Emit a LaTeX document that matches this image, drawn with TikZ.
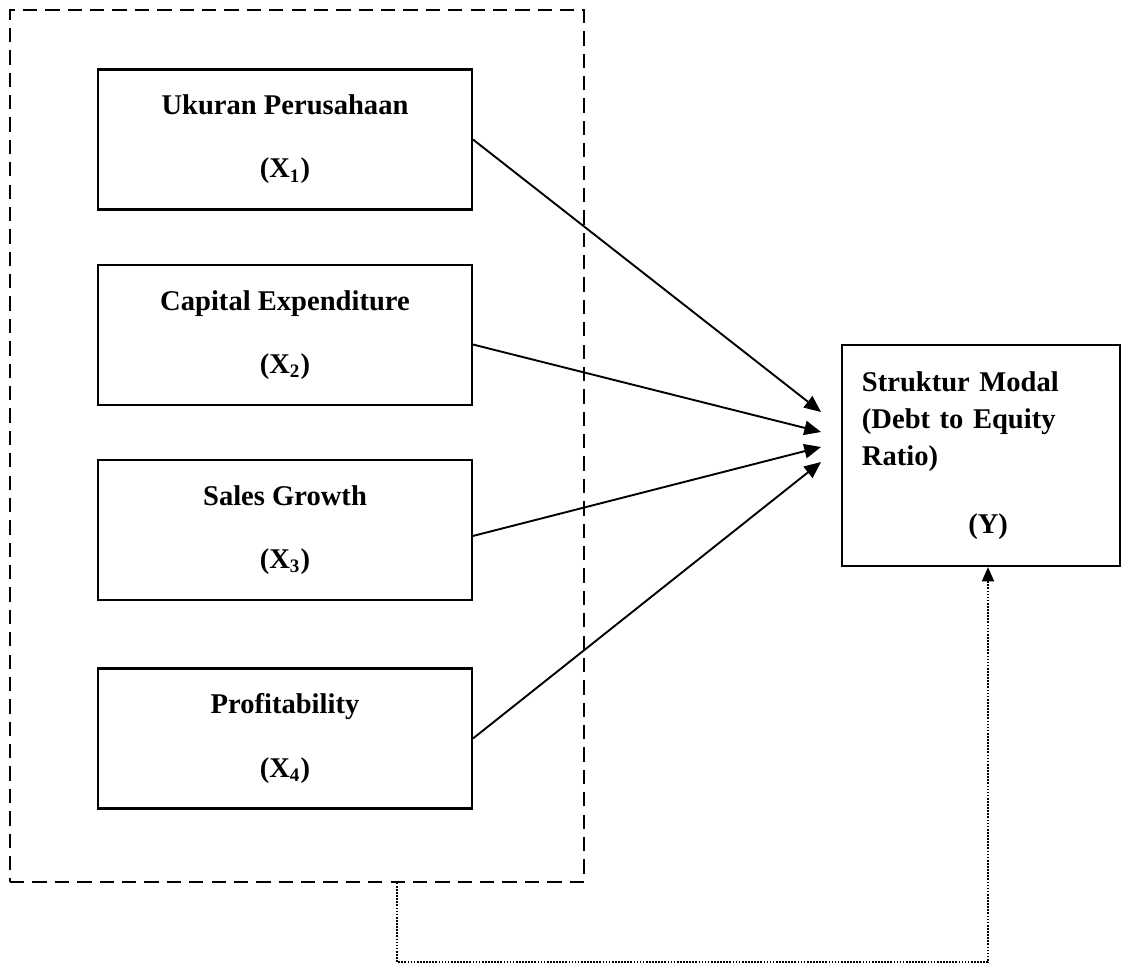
\documentclass[tikz,border=0pt]{standalone}
\usepackage{fontspec}
\setmainfont{Liberation Serif}
\usepackage{tikz}
\usetikzlibrary{arrows.meta,positioning}
\tikzset{
  varbox/.style={draw, line width=0.9pt, minimum width=157pt, minimum height=58.8pt, align=center, font=\fontsize{12}{14.5}\selectfont\bfseries},
  modalbox/.style={varbox, minimum width=116.8pt, minimum height=92.8pt, text width=100pt, align=left},
  groupbox/.style={draw, line width=0.9pt, dash pattern=on 6pt off 3.4pt, minimum width=241pt, minimum height=366pt},
  arc/.style={-{Triangle[length=7pt,width=6pt]}, line width=0.8pt},
  dotarc/.style={-{Triangle[length=6pt,width=5pt]}, line width=0.9pt, dash pattern=on 0.7pt off 0.6pt}
}
\begin{document}
\begin{tikzpicture}[x=0.42pt, y=-0.42pt]
  \useasboundingbox (0,0) rectangle (1121,965);
  \node[groupbox] (group) at (297,446) {};
  \node[varbox] (ukuran) at (285,139.5) {Ukuran Perusahaan\\[12pt](X\textsubscript{1})};
  \node[varbox] (capex) at (285,335) {Capital Expenditure\\[12pt](X\textsubscript{2})};
  \node[varbox] (sales) at (285,530) {Sales Growth\\[12pt](X\textsubscript{3})};
  \node[varbox] (profit) at (285,738.5) {Profitability\\[12pt](X\textsubscript{4})};
  \node[modalbox] (modal) at (981,455.5) {Struktur Modal\\[1pt](Debt to Equity\\[1pt]Ratio)\\[14pt]\makebox[\linewidth]{\hspace{6pt}(Y)}};

  % arrow tips in front of the Y box
  \coordinate (t1) at (821,412);
  \coordinate (t2) at (821,432);
  \coordinate (t3) at (821,447);
  \coordinate (t4) at (821,462);
  \draw[arc] (ukuran.east) -- (t1);
  \draw[arc] ([yshift=-4pt]capex.east) -- (t2);
  \draw[arc] ([yshift=-2.5pt]sales.east) -- (t3);
  \draw[arc] (profit.east) -- (t4);

  % dotted feedback line
  \coordinate (dl) at (397,962);
  \coordinate (dr) at (988,962);
  \draw[dotarc] (group.south -| dl) -- (dl) -- (dr) -- (modal.south -| dr);
\end{tikzpicture}
\end{document}
